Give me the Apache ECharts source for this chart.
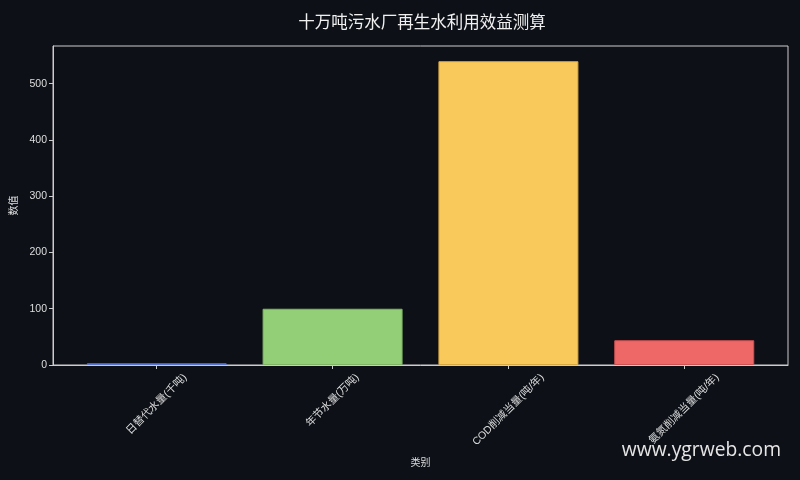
<!DOCTYPE html>
<html>
<head>
<meta charset="utf-8">
<style>
  html, body { margin: 0; padding: 0; background: #0d1117; }
  #main { width: 800px; height: 480px; }
</style>
<script src="https://cdn.jsdelivr.net/npm/echarts@6/dist/echarts.min.js"></script>
</head>
<body>
<div id="main"></div>
<script>
// 类别与数值
var categories = ['日替代水量(千吨)', '年节水量(万吨)', 'COD削减当量(吨/年)', '氨氮削减当量(吨/年)'];
var values = [3, 100, 540, 44];
var barColors = ['#7b96ec', '#93cf76', '#f9c95b', '#ef6868'];
var edgeColors = ['#5874d6', '#7fb463', '#d8a840', '#cf5050'];
var yTicks = [0, 100, 200, 300, 400, 500];
var xPositions = [0, 1, 2, 3];

var chart = echarts.init(document.getElementById('main'));

var barData = [];
for (var i = 0; i < values.length; i++) {
    barData.push({
        value: [xPositions[i], values[i]],
        itemStyle: { color: barColors[i], borderColor: edgeColors[i], borderWidth: 1 }
    });
}

var labelFont = '"Liberation Sans", "Noto Sans CJK SC", sans-serif';
var cjkFont = '"Noto Sans CJK SC", sans-serif';
var labelSize = 10.5;

// 量一下文字宽度, 旋转后的标签居中对齐刻度
var measureCtx = document.createElement('canvas').getContext('2d');
measureCtx.font = labelSize + 'px ' + labelFont;

var option = {
    backgroundColor: '#0d1117',
    animation: false,
    title: {
        text: '十万吨污水厂再生水利用效益测算',
        left: 417,
        textAlign: 'center',
        top: 8,
        textStyle: {
            color: '#f0f0f0',
            fontSize: 16.5,
            fontWeight: 'normal',
            fontFamily: cjkFont
        }
    },
    grid: {
        left: 53,
        right: 12,
        top: 46,
        bottom: 115,
        show: true,
        borderColor: '#cccccc',
        borderWidth: 1
    },
    xAxis: {
        type: 'value',
        min: -0.59,
        max: 3.59,
        name: '类别',
        nameLocation: 'middle',
        nameGap: 92,
        nameTextStyle: { color: '#dddddd', fontSize: 10, fontFamily: cjkFont },
        splitLine: { show: false },
        axisLine: { show: true, onZero: false, lineStyle: { color: '#cccccc' } },
        axisTick: { show: true, customValues: xPositions, length: 4, lineStyle: { color: '#cccccc' } },
        axisLabel: { show: false }
    },
    yAxis: {
        type: 'value',
        min: 0,
        max: 567,
        name: '数值',
        nameLocation: 'middle',
        nameGap: 35,
        nameTextStyle: { color: '#dddddd', fontSize: 10, fontFamily: cjkFont },
        splitLine: { show: false },
        axisLine: { show: true, onZero: false, lineStyle: { color: '#cccccc' } },
        axisTick: { show: true, customValues: yTicks, length: 4, lineStyle: { color: '#cccccc' } },
        axisLabel: {
            customValues: yTicks,
            color: '#dddddd',
            fontSize: 10.5,
            margin: 6,
            fontFamily: labelFont
        }
    },
    series: [
        {
            type: 'bar',
            barWidth: 140,
            data: barData
        },
        {
            // x轴的旋转标签
            type: 'custom',
            silent: true,
            clip: false,
            data: xPositions.map(function (x) { return [x, 0]; }),
            renderItem: function (params, api) {
                var idx = params.dataIndex;
                var p = api.coord([api.value(0), 0]);
                var text = categories[idx];
                var w = measureCtx.measureText(text).width;
                var h = (w + labelSize) * Math.SQRT1_2;
                return {
                    type: 'text',
                    x: p[0],
                    y: p[1] + 7 + h / 2,
                    rotation: Math.PI / 4,
                    style: {
                        text: text,
                        align: 'center',
                        verticalAlign: 'middle',
                        fill: '#dddddd',
                        font: labelSize + 'px ' + labelFont
                    }
                };
            }
        }
    ],
    graphic: [{
        type: 'text',
        right: 19,
        bottom: 20,
        style: {
            text: 'www.ygrweb.com',
            fill: '#e6e6e6',
            fontSize: 19.3,
            fontFamily: '"Open Sans", sans-serif'
        }
    }]
};

chart.setOption(option);

window.addEventListener('resize', function () {
    chart.resize();
});
</script>
</body>
</html>
